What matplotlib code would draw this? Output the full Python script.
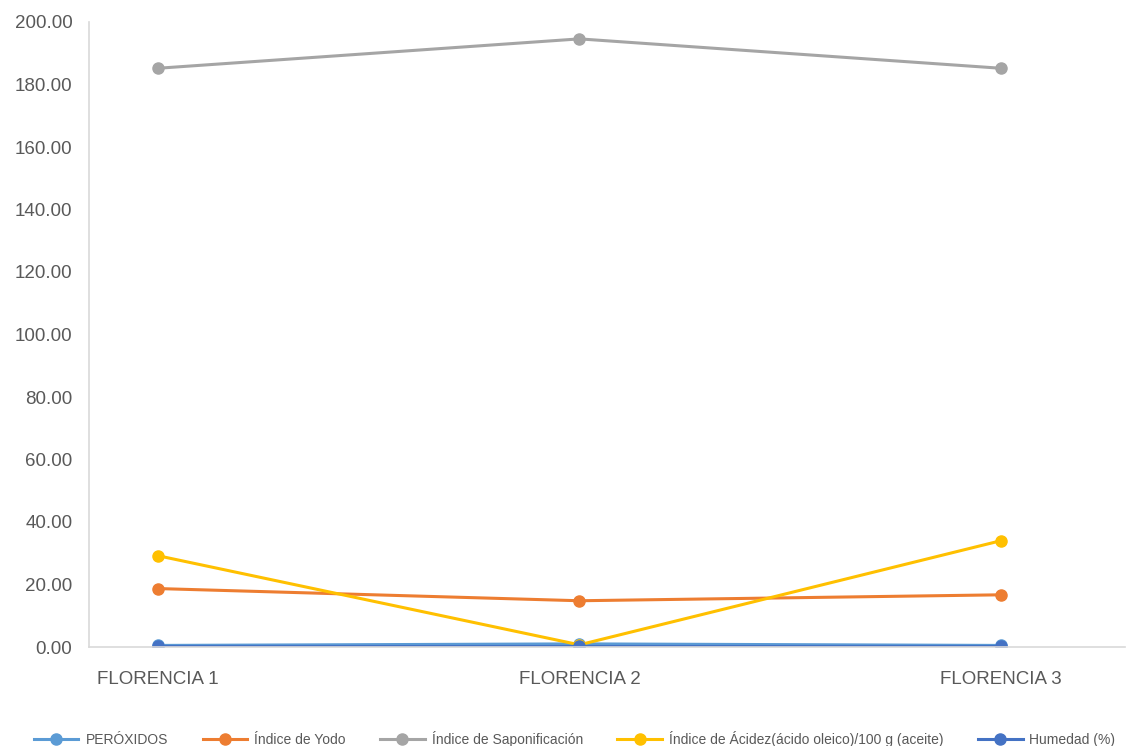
import matplotlib
matplotlib.use("Agg")
import matplotlib.pyplot as plt
from matplotlib.ticker import FormatStrFormatter

categories = ["FLORENCIA 1", "FLORENCIA 2", "FLORENCIA 3"]
peroxidos = [0.5, 1.0, 0.5]
indice_yodo = [18.7, 14.8, 16.7]
indice_saponificacion = [185.2, 194.6, 185.2]
indice_acidez = [29.2, 0.7, 34.0]
humedad = [0.3, 0.3, 0.3]

series = [
    ("PERÓXIDOS", peroxidos, "#5B9BD5"),
    ("Índice de Yodo", indice_yodo, "#ED7D31"),
    ("Índice de Saponificación", indice_saponificacion, "#A5A5A5"),
    ("Índice de Ácidez(ácido oleico)/100 g (aceite)", indice_acidez, "#FFC000"),
    ("Humedad (%)", humedad, "#4472C4"),
]

fig = plt.figure(figsize=(11.27, 7.46), dpi=100)
ax = fig.add_axes([89 / 1127, 99 / 746, (1125 - 89) / 1127, (647 - 22) / 746])

x = list(range(len(categories)))
for name, vals, color in series:
    ax.plot(x, vals, color=color, lw=2.2, marker="o", markersize=8, label=name)

ax.set_ylim(0, 200)
ax.set_yticks(range(0, 201, 20))
ax.yaxis.set_major_formatter(FormatStrFormatter("%.2f"))
ax.set_xlim(-0.164, 2.295)
ax.set_xticks(x)
ax.set_xticklabels(categories)

for side in ("top", "right"):
    ax.spines[side].set_visible(False)
for side in ("left", "bottom"):
    ax.spines[side].set_color("#D9D9D9")
    ax.spines[side].set_linewidth(1.2)

ax.tick_params(axis="both", length=0, labelsize=13.5, labelcolor="#595959",
               labelfontfamily=["Liberation Sans", "DejaVu Sans"])
ax.tick_params(axis="y", pad=12)
ax.tick_params(axis="x", pad=17)

leg = fig.legend(loc="lower center", bbox_to_anchor=(0.51, -0.018), ncol=5,
                 frameon=False, handlelength=3.2,
                 columnspacing=2.5, handletextpad=0.5,
                 prop={"family": ["Liberation Sans Narrow", "Liberation Sans", "DejaVu Sans"], "size": 10})
for t in leg.get_texts():
    t.set_color("#595959")

fig.savefig("out.png", dpi=100, facecolor="white")
